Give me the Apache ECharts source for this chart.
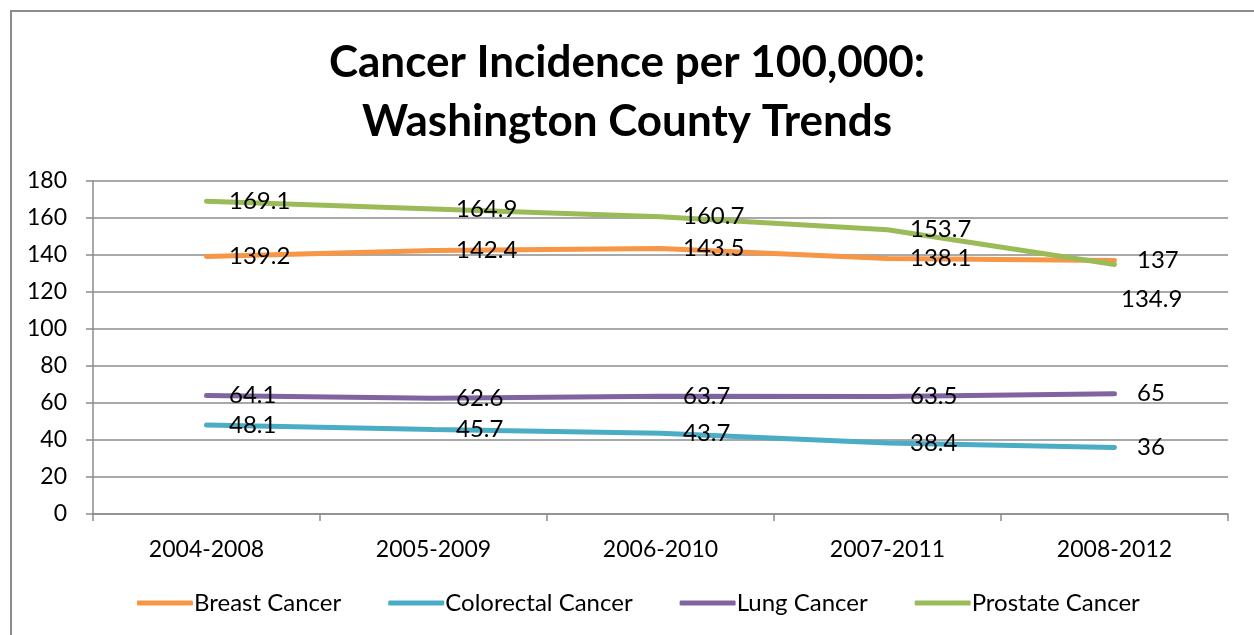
<!DOCTYPE html>
<html lang="en">
<head>
    <meta charset="UTF-8"/>
    <script src="https://cdn.jsdelivr.net/npm/echarts@6/dist/echarts.min.js"></script>
    <title>Cancer Incidence per 100,000</title>
    <style>
        body { margin: 0; background: #fff; overflow: hidden; }
        #frame { position: absolute; left: 10px; top: 10px; width: 1300px; height: 700px;
                 border: 2px solid #8c8c8c; pointer-events: none; }
    </style>
</head>
<body>
<div id="main" style="width: 1254px;height:635px; position: absolute; top:0;left:0"></div>
<div id="frame"></div>
<script type="text/javascript">
    var periods = ['2004-2008', '2005-2009', '2006-2010', '2007-2011', '2008-2012'];
    var breast = [139.2, 142.4, 143.5, 138.1, 137];
    var colorectal = [48.1, 45.7, 43.7, 38.4, 36];
    var lung = [64.1, 62.6, 63.7, 63.5, 65];
    var prostate = [169.1, 164.9, 160.7, 153.7, 134.9];

    var font = 'Lato, "Open Sans", sans-serif';

    function line(name, data, color) {
        return {
            name: name,
            type: 'line',
            data: data,
            showSymbol: true,
            symbol: 'circle',
            symbolSize: 1,
            lineStyle: { color: color, width: 5, cap: 'round' },
            itemStyle: { color: color },
            label: {
                show: true,
                position: 'right',
                distance: 22,
                color: '#000',
                fontFamily: font,
                fontSize: 24
            },
            z: 3
        };
    }

    // the last prostate label sits under the breast one
    var prostateData = prostate.map(function (v, i) {
        if (i === prostate.length - 1) {
            return { value: v, label: { offset: [-16, 35] } };
        }
        return v;
    });

    var myChart = echarts.init(document.getElementById('main'));
    var option = {
        animation: false,
        title: {
            text: 'Cancer Incidence per 100,000:\nWashington County Trends',
            left: 'center',
            top: 28,
            textStyle: { fontFamily: font, fontSize: 44, fontWeight: 'bold', color: '#000', lineHeight: 59 }
        },
        grid: { left: 93, right: 26, top: 181, bottom: 121, containLabel: false },
        legend: {
            bottom: 15,
            left: 132,
            itemWidth: 56,
            itemHeight: 5,
            itemGap: 47,
            icon: 'roundRect',
            textStyle: { fontFamily: font, fontSize: 24, color: '#000', padding: [0, 0, 0, -4] },
            data: ['Breast Cancer', 'Colorectal Cancer', 'Lung Cancer', 'Prostate Cancer']
        },
        xAxis: {
            type: 'category',
            data: periods,
            boundaryGap: true,
            axisLine: { lineStyle: { color: '#8c8c8c', width: 1.5 } },
            axisTick: { show: true, length: 7, lineStyle: { color: '#8c8c8c', width: 1.5 } },
            axisLabel: { fontFamily: font, fontSize: 23, color: '#000', margin: 24 }
        },
        yAxis: {
            type: 'value',
            min: 0,
            max: 180,
            interval: 20,
            axisLine: { show: true, lineStyle: { color: '#8c8c8c', width: 1.5 } },
            axisTick: { show: true, length: 7, lineStyle: { color: '#8c8c8c', width: 1.5 } },
            splitLine: { lineStyle: { color: '#8c8c8c', width: 1.5 } },
            axisLabel: { fontFamily: font, fontSize: 23, color: '#000', margin: 26 }
        },
        series: [
            line('Breast Cancer', breast, '#f79646'),
            line('Colorectal Cancer', colorectal, '#4bacc6'),
            line('Lung Cancer', lung, '#8064a2'),
            line('Prostate Cancer', prostateData, '#9bbb59')
        ]
    };
    myChart.setOption(option);
</script>
</body>
</html>
